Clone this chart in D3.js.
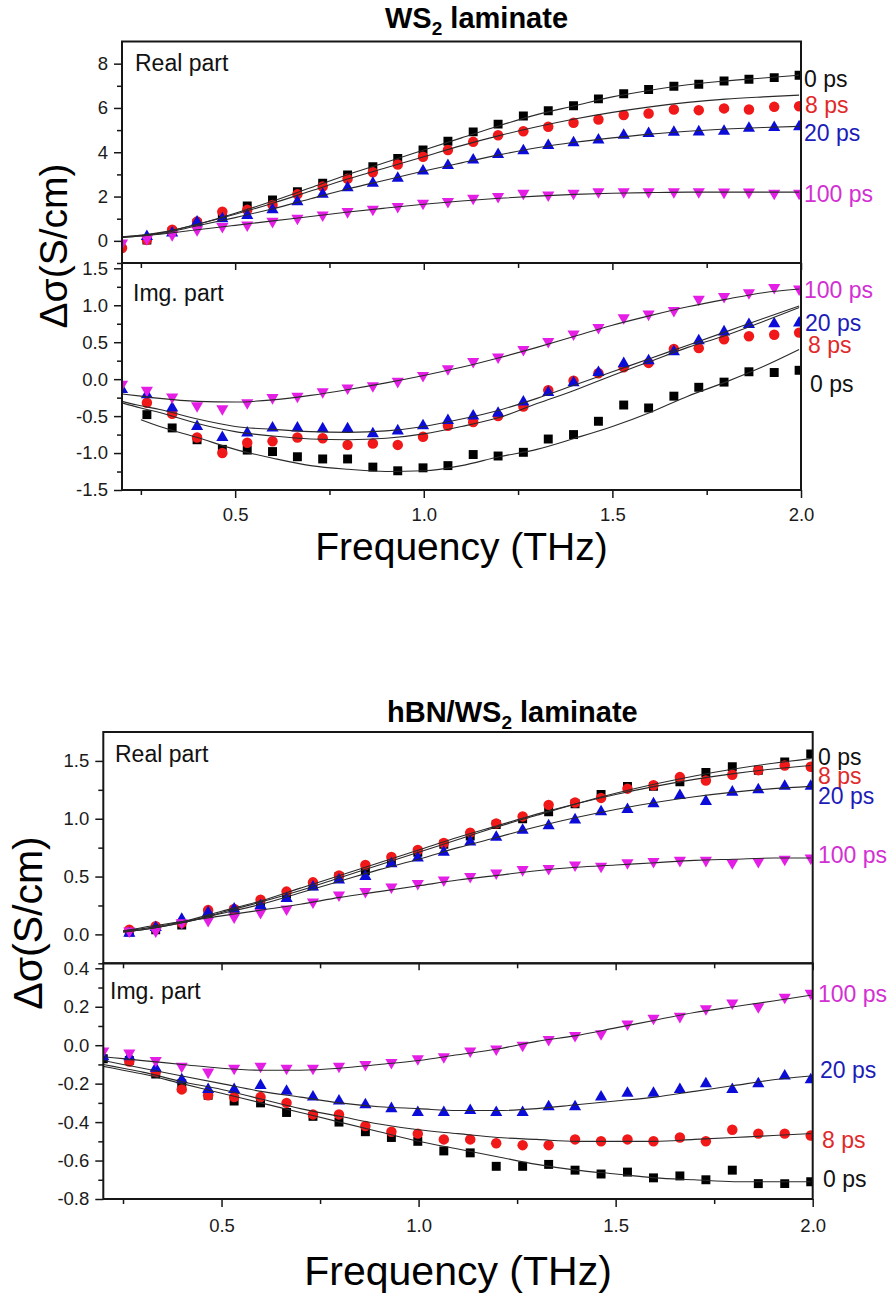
<!DOCTYPE html>
<html>
<head>
<meta charset="utf-8">
<script src="https://cdn.jsdelivr.net/npm/d3@7"></script>
<style>
  html, body { margin: 0; padding: 0; background: #fff; }
  svg { display: block; font-family: "Liberation Sans", Arial, Helvetica, sans-serif; }
</style>
</head>
<body>
<svg id="fig" width="895" height="1297"></svg>
<script>
// ---------- data ----------
// frequencies of the measured points (THz)
const freq = [0.200, 0.266, 0.333, 0.399, 0.466, 0.532, 0.599, 0.665, 0.732, 0.798,
              0.865, 0.931, 0.998, 1.064, 1.131, 1.197, 1.264, 1.330, 1.397, 1.463,
              1.530, 1.596, 1.663, 1.729, 1.796, 1.862, 1.929, 1.995];
// frequencies at which the model fits are sampled (THz)
const fitFreq = [0.20, 0.25, 0.30, 0.40, 0.50, 0.60, 0.70, 0.80, 0.90, 1.00,
                 1.10, 1.20, 1.30, 1.40, 1.50, 1.60, 1.70, 1.80, 1.90, 1.995];

const delays = ["0 ps", "8 ps", "20 ps", "100 ps"];
const delayColors = ["#000000", "#f01818", "#0c0cd8", "#e41ee4"];
const labelColors = ["#111111", "#e02a2a", "#1c1cb8", "#d230d2"];

const xMajorTicks = [0.5, 1.0, 1.5, 2.0];
const xMinorTicks = [0.25, 0.75, 1.25, 1.75];

// WS2 laminate, real part (S/cm)
const ws2Re0   = [null, 0.04, 0.42, 0.80, 1.10, 1.58, 1.85, 2.22, 2.60, 2.97, 3.35, 3.72, 4.10, 4.50, 4.92, 5.27, 5.64, 5.87, 6.10, 6.41, 6.64, 6.83, 6.98, 7.07, 7.22, 7.30, 7.37, 7.48];
const ws2Re8   = [-0.32, 0.05, 0.50, 0.87, 1.32, 1.40, 1.62, 2.10, 2.45, 2.80, 3.10, 3.45, 3.80, 4.10, 4.47, 4.77, 4.95, 5.15, 5.33, 5.48, 5.68, 5.75, 5.93, 5.90, 5.98, 5.93, 6.05, 6.08];
const ws2Re20  = [null, 0.20, 0.35, 0.85, 1.00, 1.15, 1.40, 1.77, 2.10, 2.40, 2.60, 2.83, 3.15, 3.40, 3.65, 3.90, 4.07, 4.30, 4.43, 4.55, 4.77, 4.85, 4.90, 4.92, 4.95, 5.08, 5.12, 5.15];
const ws2Re100 = [-0.10, 0.10, 0.28, 0.50, 0.65, 0.72, 0.88, 1.02, 1.17, 1.32, 1.43, 1.55, 1.70, 1.78, 1.92, 2.00, 2.15, 2.07, 2.15, 2.22, 2.22, 2.22, 2.22, 2.22, 2.20, 2.20, 2.15, 2.15];
const ws2ReFit0   = [0.18, 0.25, 0.35, 0.75, 1.25, 1.80, 2.40, 3.00, 3.55, 4.10, 4.65, 5.20, 5.70, 6.10, 6.50, 6.80, 7.05, 7.22, 7.35, 7.48];
const ws2ReFit8   = [0.18, 0.25, 0.37, 0.75, 1.20, 1.70, 2.25, 2.80, 3.30, 3.80, 4.30, 4.75, 5.15, 5.50, 5.80, 6.05, 6.25, 6.40, 6.50, 6.58];
const ws2ReFit20  = [0.15, 0.22, 0.32, 0.68, 1.05, 1.45, 1.90, 2.35, 2.75, 3.15, 3.52, 3.88, 4.20, 4.45, 4.65, 4.82, 4.95, 5.05, 5.12, 5.17];
const ws2ReFit100 = [0.15, 0.22, 0.30, 0.50, 0.70, 0.90, 1.10, 1.30, 1.48, 1.65, 1.80, 1.92, 2.02, 2.10, 2.15, 2.18, 2.20, 2.20, 2.20, 2.20];

// WS2 laminate, imaginary part (S/cm)
const ws2Im0   = [null, -0.48, -0.66, -0.82, -0.95, -0.96, -0.98, -1.05, -1.08, -1.08, -1.19, -1.24, -1.20, -1.17, -1.02, -1.04, -0.99, -0.81, -0.75, -0.57, -0.35, -0.39, -0.23, -0.11, -0.04, 0.10, 0.09, 0.12];
const ws2Im8   = [null, -0.32, -0.47, -0.79, -1.00, -0.86, -0.84, -0.79, -0.80, -0.89, -0.87, -0.89, -0.78, -0.63, -0.58, -0.50, -0.37, -0.15, -0.02, 0.08, 0.16, 0.22, 0.41, 0.42, 0.54, 0.58, 0.60, 0.63];
const ws2Im20  = [-0.14, -0.21, -0.39, -0.64, -0.79, -0.73, -0.66, -0.66, -0.67, -0.67, -0.74, -0.70, -0.63, -0.56, -0.50, -0.46, -0.31, -0.18, -0.05, 0.09, 0.21, 0.25, 0.37, 0.52, 0.64, 0.74, 0.75, 0.76];
const ws2Im100 = [-0.07, -0.15, -0.24, -0.36, -0.40, -0.32, -0.25, -0.23, -0.17, -0.12, -0.09, -0.03, 0.05, 0.14, 0.24, 0.30, 0.40, 0.51, 0.61, 0.70, 0.83, 0.88, 0.93, 1.08, 1.12, 1.17, 1.24, 1.22];
const ws2ImFit0   = [null, -0.55, -0.64, -0.79, -0.95, -1.07, -1.17, -1.22, -1.25, -1.24, -1.17, -1.05, -0.95, -0.80, -0.64, -0.45, -0.23, -0.04, 0.17, 0.40];
const ws2ImFit8   = [-0.32, -0.39, -0.45, -0.60, -0.71, -0.77, -0.81, -0.82, -0.80, -0.74, -0.64, -0.52, -0.33, -0.15, 0.05, 0.24, 0.43, 0.59, 0.78, 0.97];
const ws2ImFit20  = [-0.30, -0.36, -0.41, -0.54, -0.64, -0.68, -0.71, -0.72, -0.70, -0.64, -0.54, -0.42, -0.26, -0.08, 0.10, 0.28, 0.46, 0.64, 0.82, 0.99];
const ws2ImFit100 = [-0.20, -0.23, -0.26, -0.30, -0.31, -0.28, -0.22, -0.14, -0.05, 0.05, 0.16, 0.29, 0.43, 0.58, 0.73, 0.86, 0.98, 1.08, 1.17, 1.22];

// hBN/WS2 laminate, real part (S/cm)
const hbnRe0   = [null, 0.02, 0.04, 0.08, 0.19, 0.21, 0.28, 0.35, 0.42, 0.50, 0.55, 0.64, 0.71, 0.78, 0.85, 0.95, 1.00, 1.06, 1.13, 1.21, 1.28, 1.28, 1.32, 1.40, 1.45, 1.42, 1.49, 1.56];
const hbnRe8   = [null, 0.04, 0.07, 0.10, 0.21, 0.22, 0.30, 0.37, 0.45, 0.51, 0.60, 0.67, 0.73, 0.79, 0.88, 0.96, 1.02, 1.12, 1.14, 1.18, 1.26, 1.29, 1.36, 1.33, 1.38, 1.42, 1.46, 1.45];
const hbnRe20  = [null, 0.01, 0.06, 0.13, 0.19, 0.22, 0.25, 0.31, 0.41, 0.47, 0.50, 0.61, 0.66, 0.71, 0.80, 0.84, 0.90, 0.94, 0.99, 1.06, 1.08, 1.13, 1.20, 1.15, 1.23, 1.25, 1.28, 1.28];
const hbnRe100 = [null, 0.03, 0.03, 0.10, 0.12, 0.15, 0.19, 0.22, 0.28, 0.34, 0.37, 0.41, 0.44, 0.47, 0.50, 0.53, 0.56, 0.57, 0.60, 0.59, 0.62, 0.63, 0.64, 0.64, 0.62, 0.63, 0.65, 0.66];
const hbnReFit0   = [null, 0.02, 0.04, 0.10, 0.19, 0.28, 0.38, 0.49, 0.60, 0.71, 0.82, 0.93, 1.03, 1.13, 1.22, 1.30, 1.37, 1.43, 1.48, 1.52];
const hbnReFit8   = [null, 0.03, 0.05, 0.11, 0.20, 0.29, 0.40, 0.51, 0.62, 0.73, 0.84, 0.94, 1.04, 1.13, 1.21, 1.28, 1.34, 1.39, 1.43, 1.46];
const hbnReFit20  = [null, 0.02, 0.04, 0.10, 0.18, 0.26, 0.36, 0.46, 0.56, 0.65, 0.75, 0.84, 0.93, 1.01, 1.08, 1.14, 1.19, 1.23, 1.26, 1.28];
const hbnReFit100 = [null, 0.03, 0.06, 0.11, 0.16, 0.21, 0.26, 0.32, 0.37, 0.42, 0.47, 0.51, 0.55, 0.58, 0.60, 0.62, 0.64, 0.65, 0.66, 0.66];

// hBN/WS2 laminate, imaginary part (S/cm)
const hbnIm0   = [-0.07, -0.08, -0.15, -0.20, -0.26, -0.29, -0.30, -0.35, -0.37, -0.40, -0.45, -0.48, -0.50, -0.55, -0.56, -0.63, -0.63, -0.62, -0.65, -0.67, -0.66, -0.69, -0.68, -0.70, -0.65, -0.72, -0.72, -0.71];
const hbnIm8   = [null, -0.085, -0.14, -0.23, -0.26, -0.27, -0.27, -0.30, -0.36, -0.36, -0.42, -0.45, -0.46, -0.49, -0.49, -0.51, -0.52, -0.52, -0.49, -0.50, -0.49, -0.50, -0.48, -0.50, -0.44, -0.46, -0.46, -0.47];
const hbnIm20  = [-0.06, -0.06, -0.12, -0.18, -0.23, -0.23, -0.21, -0.24, -0.27, -0.29, -0.31, -0.33, -0.35, -0.35, -0.34, -0.35, -0.35, -0.32, -0.32, -0.27, -0.25, -0.25, -0.23, -0.20, -0.23, -0.20, -0.16, -0.18];
const hbnIm100 = [-0.03, -0.04, -0.08, -0.11, -0.14, -0.12, -0.11, -0.12, -0.12, -0.11, -0.10, -0.09, -0.07, -0.06, -0.03, -0.02, 0.00, 0.03, 0.05, 0.06, 0.11, 0.14, 0.15, 0.19, 0.22, 0.20, 0.25, 0.27];
const hbnImFit0   = [-0.11, -0.13, -0.15, -0.20, -0.25, -0.30, -0.35, -0.40, -0.45, -0.50, -0.54, -0.58, -0.62, -0.65, -0.67, -0.69, -0.70, -0.71, -0.71, -0.71];
const hbnImFit8   = [-0.10, -0.12, -0.14, -0.19, -0.23, -0.28, -0.33, -0.37, -0.41, -0.44, -0.46, -0.48, -0.49, -0.50, -0.50, -0.50, -0.49, -0.48, -0.47, -0.46];
const hbnImFit20  = [-0.08, -0.10, -0.12, -0.16, -0.20, -0.24, -0.27, -0.30, -0.32, -0.33, -0.34, -0.34, -0.33, -0.31, -0.29, -0.27, -0.24, -0.21, -0.18, -0.16];
const hbnImFit100 = [-0.06, -0.07, -0.08, -0.10, -0.12, -0.13, -0.13, -0.12, -0.10, -0.08, -0.05, -0.02, 0.02, 0.05, 0.09, 0.13, 0.17, 0.20, 0.23, 0.26];

// ---------- layout ----------
const charts = [
  {
    title: ["WS", "2", " laminate"], titleX: 385, titleY: 28, titleSize: 29,
    left: 122, right: 801,
    yLabelX: 67, yLabelY: 246, yLabelSize: 39,
    xLabelY: 560, xLabelSize: 39, tickLabelY: 521,
    panels: [
      { top: 41.5, bottom: 263, domain: [-1, 9],
        majors: [0, 2, 4, 6, 8], minors: [-1, 1, 3, 5, 7], digits: 0,
        note: "Real part", noteX: 135, noteY: 71,
        points: [ws2Re0, ws2Re8, ws2Re20, ws2Re100],
        fits: [ws2ReFit0, ws2ReFit8, ws2ReFit20, ws2ReFit100],
        tags: [{s: 0, x: 804, y: 87}, {s: 1, x: 805, y: 113}, {s: 2, x: 804, y: 141}, {s: 3, x: 804, y: 202}] },
      { top: 263, bottom: 490, domain: [-1.5, 1.572],
        majors: [-1.5, -1.0, -0.5, 0.0, 0.5, 1.0, 1.5], minors: [-1.25, -0.75, -0.25, 0.25, 0.75, 1.25], digits: 1,
        note: "Img. part", noteX: 133, noteY: 301,
        points: [ws2Im0, ws2Im8, ws2Im20, ws2Im100],
        fits: [ws2ImFit0, ws2ImFit8, ws2ImFit20, ws2ImFit100],
        tags: [{s: 3, x: 804, y: 298}, {s: 2, x: 805, y: 331}, {s: 1, x: 808, y: 353}, {s: 0, x: 810, y: 392}] }
    ]
  },
  {
    title: ["hBN/WS", "2", " laminate"], titleX: 387, titleY: 722, titleSize: 29,
    left: 103.3, right: 812.7,
    yLabelX: 42, yLabelY: 923, yLabelSize: 41,
    xLabelY: 1285, xLabelSize: 41, tickLabelY: 1232,
    panels: [
      { top: 732, bottom: 963.3, domain: [-0.25, 1.75],
        majors: [0.0, 0.5, 1.0, 1.5], minors: [-0.25, 0.25, 0.75, 1.25], digits: 1,
        note: "Real part", noteX: 115, noteY: 762,
        points: [hbnRe0, hbnRe8, hbnRe20, hbnRe100],
        fits: [hbnReFit0, hbnReFit8, hbnReFit20, hbnReFit100],
        tags: [{s: 0, x: 818, y: 765}, {s: 1, x: 818, y: 784}, {s: 2, x: 818, y: 804}, {s: 3, x: 818, y: 863}] },
      { top: 963.3, bottom: 1199, domain: [-0.8, 0.426],
        majors: [-0.8, -0.6, -0.4, -0.2, 0.0, 0.2, 0.4], minors: [-0.7, -0.5, -0.3, -0.1, 0.1, 0.3], digits: 1,
        note: "Img. part", noteX: 110, noteY: 999,
        points: [hbnIm0, hbnIm8, hbnIm20, hbnIm100],
        fits: [hbnImFit0, hbnImFit8, hbnImFit20, hbnImFit100],
        tags: [{s: 3, x: 818, y: 1002}, {s: 2, x: 820, y: 1078}, {s: 1, x: 822, y: 1148}, {s: 0, x: 823, y: 1187}] }
    ]
  }
];

// ---------- drawing ----------
const svg = d3.select("#fig");
const defs = svg.append("defs");
const ink = "#161616";

const markerTypes = [d3.symbolSquare, d3.symbolCircle, d3.symbolTriangle, d3.symbolTriangle];
const markerArea  = [80, 86, 64, 64];
const markerTurn  = [0, 0, 0, 180];   // last delay uses a down-pointing triangle

const fmt = digits => v => (v < 0 ? "-" : "") + Math.abs(v).toFixed(digits);

function styleAxis(g, size) {
  g.select(".domain").remove();
  g.selectAll(".tick line").attr("stroke", ink).attr("stroke-width", 1.5);
  g.selectAll(".tick text").attr("fill", "#1a1a1a")
    .style("font-size", size + "px")
    .style("font-family", '"Liberation Sans", Arial, sans-serif');
}

charts.forEach((chart, ci) => {
  const x = d3.scaleLinear().domain([0.2, 2.0]).range([chart.left, chart.right]);

  chart.panels.forEach((p, pi) => {
    const y = d3.scaleLinear().domain(p.domain).range([p.bottom, p.top]);
    const clipId = `clip-${ci}-${pi}`;
    defs.append("clipPath").attr("id", clipId).append("rect")
      .attr("x", chart.left).attr("y", p.top)
      .attr("width", chart.right - chart.left).attr("height", p.bottom - p.top);

    const plot = svg.append("g").attr("clip-path", `url(#${clipId})`);

    // measured points
    p.points.forEach((vals, s) => {
      const pts = freq.map((f, i) => ({f, v: vals[i]})).filter(d => d.v != null);
      plot.append("g").selectAll("path").data(pts).join("path")
        .attr("transform", d => `translate(${x(d.f)},${y(d.v)}) rotate(${markerTurn[s]})`)
        .attr("d", d3.symbol(markerTypes[s], markerArea[s]))
        .attr("fill", delayColors[s]);
    });

    // model fits
    const line = d3.line()
      .defined(d => d.v != null)
      .x(d => x(d.f)).y(d => y(d.v))
      .curve(d3.curveMonotoneX);
    p.fits.forEach(vals => {
      plot.append("path")
        .attr("d", line(fitFreq.map((f, i) => ({f, v: vals[i]}))))
        .attr("fill", "none").attr("stroke", "#2a2a2a").attr("stroke-width", 1.1);
    });

    // y axis: major ticks with labels, minor ticks without
    svg.append("g").attr("transform", `translate(${chart.left},0)`)
      .call(d3.axisLeft(y).tickValues(p.majors).tickFormat(fmt(p.digits)).tickSize(8).tickPadding(6))
      .call(g => styleAxis(g, 18.5));
    svg.append("g").attr("transform", `translate(${chart.left},0)`)
      .call(d3.axisLeft(y).tickValues(p.minors).tickFormat("").tickSize(5))
      .call(g => styleAxis(g, 18.5));

    // panel frame
    svg.append("rect")
      .attr("x", chart.left).attr("y", p.top)
      .attr("width", chart.right - chart.left).attr("height", p.bottom - p.top)
      .attr("fill", "none").attr("stroke", ink).attr("stroke-width", 2);

    // panel caption
    svg.append("text").attr("x", p.noteX).attr("y", p.noteY)
      .attr("fill", "#111").style("font-size", "23px").text(p.note);

    // delay tags at the right edge
    p.tags.forEach(t => {
      svg.append("text").attr("x", t.x).attr("y", t.y)
        .attr("fill", labelColors[t.s]).style("font-size", "23px").text(delays[t.s]);
    });
  });

  const lower = chart.panels[1];

  // frequency ticks along the seam between panels (pointing into the lower panel)
  svg.append("g").attr("transform", `translate(0,${lower.top})`)
    .call(d3.axisBottom(x).tickValues(xMajorTicks).tickFormat("").tickSize(7))
    .call(g => styleAxis(g, 18.5));
  svg.append("g").attr("transform", `translate(0,${lower.top})`)
    .call(d3.axisBottom(x).tickValues(xMinorTicks).tickFormat("").tickSize(5))
    .call(g => styleAxis(g, 18.5));

  // bottom frequency axis
  const xb = svg.append("g").attr("transform", `translate(0,${lower.bottom})`)
    .call(d3.axisBottom(x).tickValues(xMajorTicks).tickFormat(fmt(1)).tickSize(8).tickPadding(0))
    .call(g => styleAxis(g, 18.5));
  xb.selectAll(".tick text").attr("dy", null).attr("y", chart.tickLabelY - lower.bottom);
  svg.append("g").attr("transform", `translate(0,${lower.bottom})`)
    .call(d3.axisBottom(x).tickValues(xMinorTicks).tickFormat("").tickSize(5))
    .call(g => styleAxis(g, 18.5));

  // axis titles
  svg.append("text")
    .attr("x", (chart.left + chart.right) / 2).attr("y", chart.xLabelY)
    .attr("text-anchor", "middle").attr("fill", "#000")
    .style("font-size", chart.xLabelSize + "px").text("Frequency (THz)");

  svg.append("text")
    .attr("transform", `translate(${chart.yLabelX},${chart.yLabelY}) rotate(-90)`)
    .attr("text-anchor", "middle").attr("fill", "#000")
    .style("font-size", chart.yLabelSize + "px").text("Δσ(S/cm)");

  // chart title with subscript
  const t = svg.append("text").attr("x", chart.titleX).attr("y", chart.titleY)
    .attr("fill", "#000").style("font-size", chart.titleSize + "px").style("font-weight", "bold");
  t.append("tspan").text(chart.title[0]);
  t.append("tspan").attr("dy", 7).style("font-size", "19px").text(chart.title[1]);
  t.append("tspan").attr("dy", -7).text(chart.title[2]);
});
</script>
</body>
</html>
